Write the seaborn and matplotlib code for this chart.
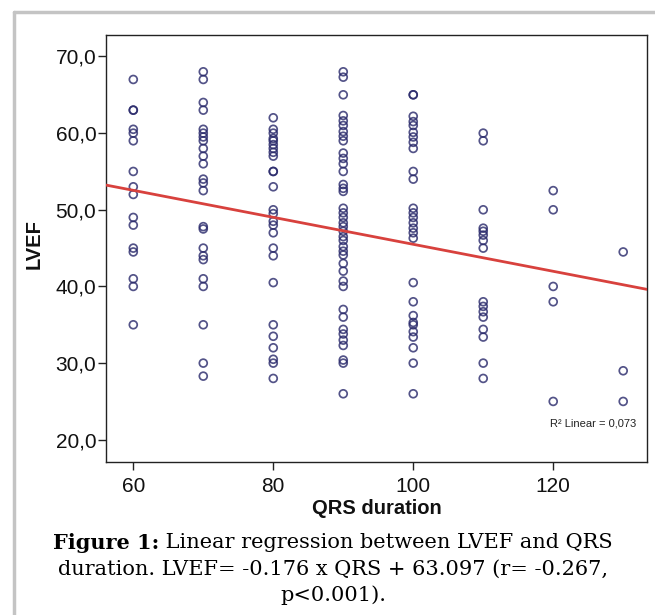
import numpy as np
import pandas as pd
import matplotlib
matplotlib.use("Agg")
import matplotlib.pyplot as plt
from matplotlib.lines import Line2D
import seaborn as sns

# LVEF readings per QRS duration group
qrs_groups = [60, 70, 80, 90, 100, 110, 120, 130]
lvef_60 = [67, 63, 63, 60.5, 60, 59, 55, 53, 52, 49, 48, 45, 44.5, 41, 40, 35]
lvef_70 = [68, 67, 64, 63, 60.5, 60, 59.5, 59, 58, 57, 56, 54, 53.5, 52.5,
           47.8, 47.5, 45, 44, 43.5, 41, 40, 35, 30, 28.3]
lvef_80 = [62, 60.5, 60, 59.3, 59, 58.5, 58, 57.5, 57, 55, 55, 53, 50, 49.5,
           48.5, 48, 47, 45, 44, 40.5, 35, 33.5, 32, 30.5, 30, 28]
lvef_90 = [68, 67.3, 65, 62.3, 61.6, 61, 60.2, 59.6, 59, 57.4, 56.7, 56, 55,
           53.3, 52.8, 52.4, 50.2, 49.6, 49, 48.3, 47.8, 47.2, 46.5, 46, 45.2,
           44.6, 44.1, 43, 42, 40.7, 40, 37, 36, 34.4, 33.8, 33, 32.3, 30.4,
           30, 26]
lvef_100 = [65, 65, 62.2, 61.5, 61, 60.1, 59.5, 58.8, 58, 55, 54, 50.2, 49.6,
            49, 48.3, 47.6, 47, 46.3, 40.5, 38, 36.2, 35.3, 35, 34.1, 33.4, 32,
            30, 26]
lvef_110 = [60, 59, 50, 47.6, 47.2, 46.7, 46, 45, 38, 37.4, 36.7, 36, 34.4,
            33.4, 30, 28]
lvef_120 = [52.5, 50, 40, 38, 25]
lvef_130 = [44.5, 29, 25]

# published fit
slope = -0.176
intercept = 63.097
r_squared = "0,073"

x_ticks = [60, 80, 100, 120]
y_ticks = [20, 30, 40, 50, 60, 70]

caption_bold = "Figure 1:"
caption_line1 = " Linear regression between LVEF and QRS"
caption_line2 = "duration. LVEF= -0.176 x QRS + 63.097 (r= -0.267,"
caption_line3 = "p<0.001)."


def main():
    sns.set_style("ticks")
    plt.rcParams["font.family"] = ["Liberation Sans", "DejaVu Sans"]

    groups = [lvef_60, lvef_70, lvef_80, lvef_90, lvef_100, lvef_110, lvef_120, lvef_130]
    rows = []
    for q, vals in zip(qrs_groups, groups):
        for v in vals:
            rows.append({"QRS": q, "LVEF": v})
    df = pd.DataFrame(rows)

    fig = plt.figure(figsize=(6.55, 6.15), dpi=100)
    ax = fig.add_axes([106 / 655, 1 - 462 / 615, 541 / 655, 427 / 615])

    sns.scatterplot(data=df, x="QRS", y="LVEF", ax=ax, marker="o", s=32,
                    facecolor="none", edgecolor="#28286a", linewidth=1.25,
                    alpha=0.8, legend=False)

    ax.set_xlim(56.1, 133.4)
    ax.set_ylim(17.1, 72.8)

    xs = np.array(ax.get_xlim())
    ax.plot(xs, slope * xs + intercept, color="#d8413d", lw=2.0, zorder=3)

    ax.set_xticks(x_ticks)
    ax.set_yticks(y_ticks)
    ax.set_yticklabels([f"{v:.1f}".replace(".", ",") for v in y_ticks])
    ax.tick_params(axis="both", direction="out", length=6, width=1,
                   labelsize=15, color="#222222", labelcolor="#111111")
    ax.tick_params(axis="y", pad=1)
    ax.tick_params(axis="x", pad=5)
    for sp in ax.spines.values():
        sp.set_visible(True)
        sp.set_color("#222222")
        sp.set_linewidth(1.0)

    ax.set_xlabel("QRS duration", fontsize=14.5, fontweight="bold", color="#111111")
    ax.set_ylabel("LVEF", fontsize=14.5, fontweight="bold", color="#111111")
    ax.xaxis.label.set_va("center")
    ax.yaxis.label.set_va("center")
    ax.xaxis.set_label_coords(0.5, -0.108)
    ax.yaxis.set_label_coords(-0.133, 0.51)

    ax.text(0.98, 0.09, f"R² Linear = {r_squared}", transform=ax.transAxes,
            ha="right", va="center", fontsize=8, color="#222222")

    # light grey frame around the figure (top and left visible)
    fig.add_artist(Line2D([14 / 655, 1.0], [1 - 12 / 615, 1 - 12 / 615],
                          transform=fig.transFigure, color="#c4c4c4", lw=2.5))
    fig.add_artist(Line2D([14 / 655, 14 / 655], [0.0, 1 - 12 / 615],
                          transform=fig.transFigure, color="#c4c4c4", lw=2.5))

    # caption, first words in bold
    serif = ["DejaVu Serif"]
    cx = 333 / 655
    t1 = fig.text(0, 1 - 543 / 615, caption_bold, fontsize=15, fontweight="bold",
                  family=serif, va="center", ha="left", color="black")
    t2 = fig.text(0, 1 - 543 / 615, caption_line1, fontsize=15, family=serif,
                  va="center", ha="left", color="black")
    fig.canvas.draw()
    r = fig.canvas.get_renderer()
    w1 = t1.get_window_extent(r).width / fig.bbox.width
    w2 = t2.get_window_extent(r).width / fig.bbox.width
    start = cx - (w1 + w2) / 2
    t1.set_x(start)
    t2.set_x(start + w1)
    fig.text(cx, 1 - 569 / 615, caption_line2, fontsize=15, family=serif,
             va="center", ha="center", color="black")
    fig.text(cx, 1 - 595 / 615, caption_line3, fontsize=15, family=serif,
             va="center", ha="center", color="black")

    fig.savefig("out.png", dpi=100)
    plt.close(fig)


if __name__ == "__main__":
    main()
